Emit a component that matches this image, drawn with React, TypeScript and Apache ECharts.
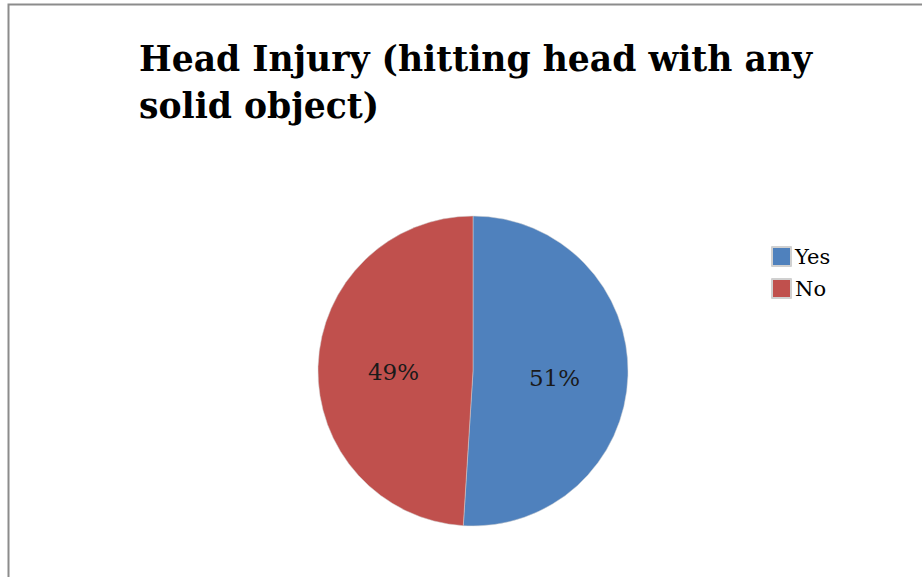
import React, { useEffect, useRef } from "react";
import * as echarts from "echarts";

const categories = ["Yes", "No"];
const values = [51, 49];
const colors = ["#4F81BD", "#C0504D"];
const titleText = "Head Injury (hitting head with any\nsolid object)";

export default function App() {
  const ref = useRef<HTMLDivElement>(null);

  useEffect(() => {
    if (!ref.current) return;
    const chart = echarts.init(ref.current, undefined, { renderer: "svg" });
    chart.setOption({
      animation: false,
      backgroundColor: "#ffffff",
      title: {
        text: titleText,
        left: 134,
        top: 30,
        textStyle: {
          fontFamily: "DejaVu Serif",
          fontWeight: "bold",
          fontSize: 34.6,
          lineHeight: 47,
          color: "#000000",
        },
      },
      legend: {
        orient: "vertical",
        left: 766,
        top: 241,
        itemWidth: 19,
        itemHeight: 19,
        itemGap: 11,
        icon: "rect",
        data: categories,
        textStyle: {
          fontFamily: "DejaVu Serif",
          fontSize: 21,
          lineHeight: 19,
          color: "#000000",
          padding: [0, 0, 0, -1],
        },
      },
      graphic: [
        {
          type: "rect",
          shape: { x: 8.5, y: 4.5, width: 1000, height: 700 },
          style: { fill: "none", stroke: "#8c8c8c", lineWidth: 2 },
          silent: true,
        },
      ],
      series: [
        {
          type: "pie",
          center: [473, 371],
          radius: 155,
          startAngle: 90,
          clockwise: true,
          data: categories.map((c, i) => ({
            name: c,
            value: values[i],
            itemStyle: { color: colors[i] },
          })),
          itemStyle: { borderColor: "#d0d0d0", borderWidth: 0.5 },
          label: {
            position: "inside",
            formatter: "{d}%",
            fontFamily: "DejaVu Serif",
            fontSize: 23,
            color: "#1a1a1a",
            offset: [1, 4],
          },
          labelLine: { show: false },
          emphasis: { disabled: true },
        },
      ],
    });
    return () => chart.dispose();
  }, []);

  return (
    <div
      ref={ref}
      style={{ position: "fixed", left: 0, top: 0, width: 922, height: 577 }}
    />
  );
}
